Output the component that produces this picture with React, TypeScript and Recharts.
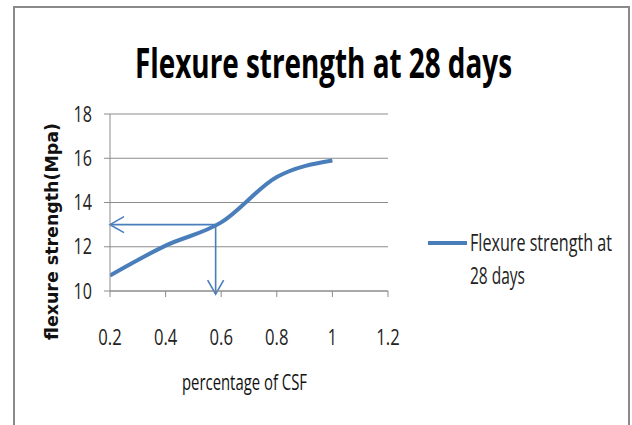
import React from "react";
import { LineChart, Line, XAxis, YAxis, CartesianGrid, ReferenceLine } from "recharts";

const csfPercent = [0.2, 0.4, 0.6, 0.8, 1.0];
const flexureStrength = [10.7, 12.05, 13.1, 15.15, 15.9];
const xTicks = [0.2, 0.4, 0.6, 0.8, 1.0, 1.2];
const yTicks = [10, 12, 14, 16, 18];
const readX = 0.58;
const readY = 13;

const titleText = "Flexure strength at 28 days";
const yLabelText = "flexure strength(Mpa)";
const xLabelText = "percentage of CSF";
const legendLines = ["Flexure strength at", "28 days"];

const data = csfPercent.map((x, i) => ({ x, y: flexureStrength[i] }));

const FONT = "'Open Sans', sans-serif";
const ARROW = "#4a7ebb";
const LINE = "#4a7ebb";
const GRID = "#8c8c8c";

const numWidth = (s: string) => {
  let w = 0;
  for (const c of s) w += c === "." ? 5 : 9.2;
  return w;
};

const XTick = (props: any) => {
  const { x, y, payload } = props;
  const s = String(payload.value);
  return (
    <text
      x={x}
      y={y + 46}
      textAnchor="middle"
      fontFamily={FONT}
      fontSize={21}
      fill="#222"
      textLength={numWidth(s)}
      lengthAdjust="spacingAndGlyphs"
    >
      {s}
    </text>
  );
};

const YTick = (props: any) => {
  const { x, y, payload } = props;
  const s = String(payload.value);
  return (
    <text
      x={x - 10}
      y={y + 7.5}
      textAnchor="end"
      fontFamily={FONT}
      fontSize={21}
      fill="#222"
      textLength={numWidth(s)}
      lengthAdjust="spacingAndGlyphs"
    >
      {s}
    </text>
  );
};

const ArrowShape = (props: any) => {
  const { x1, y1, x2, y2 } = props;
  const dx = x2 - x1;
  const dy = y2 - y1;
  const len = Math.sqrt(dx * dx + dy * dy) || 1;
  const ux = dx / len;
  const uy = dy / len;
  const back = 14;
  const side = 8;
  const bx = x2 - ux * back;
  const by = y2 - uy * back;
  const px = -uy * side;
  const py = ux * side;
  return (
    <g>
      <line x1={x1} y1={y1} x2={x2} y2={y2} stroke={ARROW} strokeWidth={1.6} />
      <polyline
        points={`${bx + px},${by + py} ${x2},${y2} ${bx - px},${by - py}`}
        fill="none"
        stroke={ARROW}
        strokeWidth={1.6}
      />
    </g>
  );
};

export default function App() {
  return (
    <div style={{ position: "absolute", left: 0, top: 0, width: 632, height: 425, background: "#fff", overflow: "hidden" }}>
      <div style={{ position: "absolute", left: 0, top: 0 }}>
        <LineChart width={632} height={425} data={data} margin={{ top: 114, right: 244, bottom: 104, left: 80 }}>
          <CartesianGrid horizontal vertical={false} stroke={GRID} strokeWidth={1} />
          <XAxis
            dataKey="x"
            type="number"
            domain={[0.2, 1.2]}
            ticks={xTicks}
            height={30}
            axisLine={{ stroke: GRID }}
            tickLine={{ stroke: GRID }}
            tickSize={6}
            tickMargin={2}
            tick={XTick}
            allowDataOverflow
          />
          <YAxis
            type="number"
            domain={[10, 18]}
            ticks={yTicks}
            width={30}
            axisLine={{ stroke: GRID }}
            tickLine={{ stroke: GRID }}
            tickSize={6}
            tickMargin={2}
            tick={YTick}
            allowDataOverflow
          />
          <Line
            dataKey="y"
            type="monotone"
            stroke={LINE}
            strokeWidth={4}
            dot={false}
            isAnimationActive={false}
          />
          <ReferenceLine
            segment={[{ x: readX, y: readY }, { x: 0.2, y: readY }]}
            ifOverflow="visible"
            shape={ArrowShape}
          />
          <ReferenceLine
            segment={[{ x: readX, y: readY }, { x: readX, y: 9.86 }]}
            ifOverflow="visible"
            shape={ArrowShape}
          />
        </LineChart>
      </div>
      <svg width={632} height={425} style={{ position: "absolute", left: 0, top: 0, pointerEvents: "none" }}>
        <rect x={14} y={7} width={615} height={440} fill="none" stroke="#8a8a8a" strokeWidth={2} />
        <text
          x={135}
          y={78}
          fontFamily={FONT}
          fontWeight="bold"
          fontSize={41}
          fill="#000"
          textLength={377}
          lengthAdjust="spacingAndGlyphs"
        >
          {titleText}
        </text>
        <text
          transform="translate(58,340) rotate(-90)"
          x={0}
          y={0}
          fontFamily="'DejaVu Sans', sans-serif"
          fontWeight="bold"
          fontSize={17}
          fill="#111"
          textLength={217}
          lengthAdjust="spacingAndGlyphs"
        >
          {yLabelText}
        </text>
        <text
          x={182}
          y={390}
          fontFamily={FONT}
          fontSize={22}
          fill="#111"
          textLength={125}
          lengthAdjust="spacingAndGlyphs"
        >
          {xLabelText}
        </text>
        <line x1={428} y1={243} x2={467} y2={243} stroke={LINE} strokeWidth={4} />
        <text
          x={470}
          y={251}
          fontFamily={FONT}
          fontSize={23}
          fill="#222"
          textLength={142}
          lengthAdjust="spacingAndGlyphs"
        >
          {legendLines[0]}
        </text>
        <text
          x={470}
          y={284}
          fontFamily={FONT}
          fontSize={23}
          fill="#222"
          textLength={55}
          lengthAdjust="spacingAndGlyphs"
        >
          {legendLines[1]}
        </text>
      </svg>
    </div>
  );
}
